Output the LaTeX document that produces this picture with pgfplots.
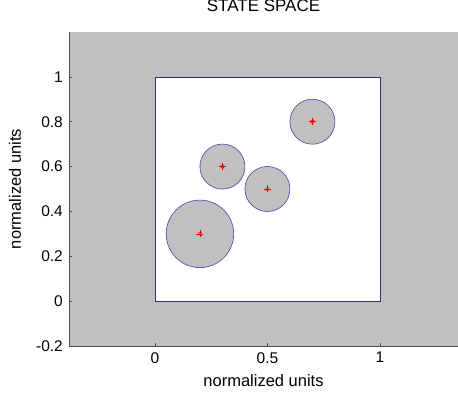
\documentclass[border=0pt]{standalone}
\usepackage{fontspec}
\setmainfont{Liberation Sans}
\usepackage{pgfplots}
\pgfplotsset{compat=1.18}
\definecolor{bggray}{RGB}{192,192,192}
\definecolor{edgeblue}{RGB}{48,48,128}
\definecolor{circblue}{RGB}{70,70,170}
\definecolor{axgray}{RGB}{80,80,80}
\begin{document}
\begin{tikzpicture}
\begin{axis}[
  name=ss,
  scale only axis,
  width=389pt, height=314pt,
  xmin=-0.382, xmax=1.347,
  ymin=-0.2, ymax=1.2,
  axis background/.style={fill=bggray},
  axis x line*=bottom, axis y line*=left,
  axis line style={axgray, line width=0.8pt},
  tick style={axgray, line width=0.5pt},
  tick align=inside,
  major tick length=3pt,
  xtick={0,0.5,1}, ytick={-0.2,0,0.2,0.4,0.6,0.8,1},
  xticklabels={0,0.5,1},
  yticklabels={-0.2,0,0.2,0.4,0.6,0.8,1},
  ticklabel style={font=\fontsize{15.5}{18}\selectfont},
  yticklabel style={inner sep=0pt, xshift=-6pt},
  xticklabel style={inner sep=0pt, yshift=-6pt},
  xlabel={normalized units}, ylabel={normalized units},
  label style={font=\fontsize{16.5}{18}\selectfont},
  xlabel style={at={(rel axis cs:0.5,0)}, anchor=center, yshift=-35pt},
  ylabel style={at={(rel axis cs:0,0.5)}, anchor=center, yshift=54pt},
  title={STATE SPACE},
  title style={font=\fontsize{17}{19}\selectfont, inner sep=0pt,
    at={(rel axis cs:0.5,1)}, anchor=base, yshift=14pt},
  clip=false,
]
% unit square of the state space
\addplot[edgeblue, line width=0.7pt, fill=white] coordinates {(0,0) (1,0) (1,1) (0,1)} -- cycle;
% region of radius 0.15 (0.15 units = 33.75pt)
\addplot[only marks, mark=*, mark size=33.75pt,
  mark options={fill=bggray, draw=circblue, line width=0.6pt}]
  coordinates {(0.2,0.3)};
% regions of radius 0.1 (0.1 units = 22.5pt)
\addplot[only marks, mark=*, mark size=22.5pt,
  mark options={fill=bggray, draw=circblue, line width=0.6pt}]
  coordinates {(0.3,0.6) (0.5,0.5) (0.7,0.8)};
% centres, drawn as a star (plus and cross)
\addplot[only marks, mark=+, mark size=3.5pt, red, mark options={line width=0.6pt}]
  coordinates {(0.2,0.3) (0.3,0.6) (0.5,0.5) (0.7,0.8)};
\addplot[only marks, mark=x, mark size=2.5pt, red, mark options={line width=0.6pt}]
  coordinates {(0.2,0.3) (0.3,0.6) (0.5,0.5) (0.7,0.8)};
\end{axis}
\pgfresetboundingbox
\path[use as bounding box] ([shift={(-69pt,-50pt)}]ss.south west) rectangle ([shift={(0pt,32pt)}]ss.north east);
\end{tikzpicture}
\end{document}
